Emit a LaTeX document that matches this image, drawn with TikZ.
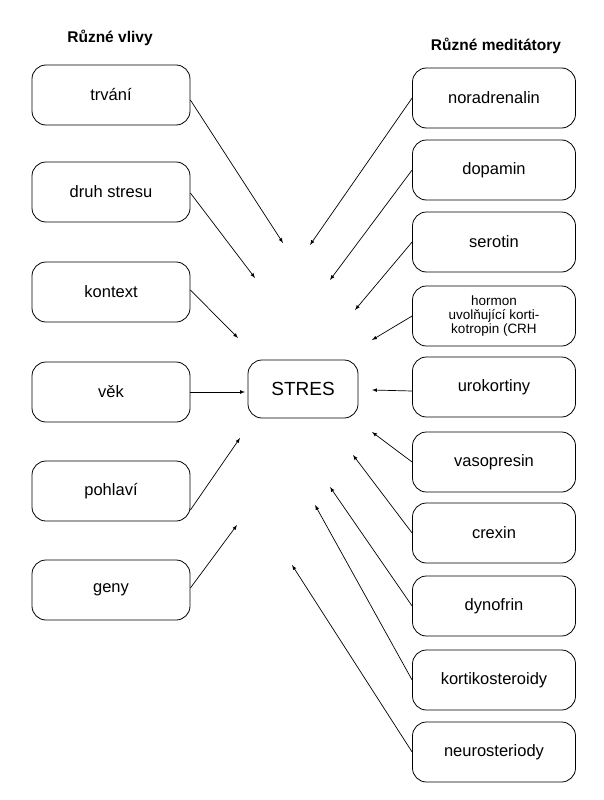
\documentclass[tikz,border=0pt]{standalone}
\usepackage{fontspec}
\setmainfont{Liberation Sans}
\begin{document}
\begin{tikzpicture}[x=1pt,y=-1pt,
  box/.style={draw,rounded corners=14pt,line width=0.8pt,minimum width=158pt,minimum height=60pt,font=\fontsize{16.5}{18}\selectfont,align=center,inner sep=1pt},
  rbox/.style={box,minimum width=163pt},
  arr/.style={-latex,line width=0.7pt},
  head/.style={font=\bfseries\fontsize{15.5}{17}\selectfont}]
\useasboundingbox (0,0) rectangle (604,800);
\node[head] (h1) at (110,38) {Různé vlivy};
\node[head] (h2) at (496,46) {Různé meditátory};
\node[box] (l1) at (111,95) {trvání};
\node[box] (l2) at (111,192) {druh stresu};
\node[box] (l3) at (111,292) {kontext};
\node[box] (l4) at (111,392) {věk};
\node[box] (l5) at (111,491) {pohlaví};
\node[box] (l6) at (111,590) {geny};
\node[box,minimum width=110pt,minimum height=58pt,font=\fontsize{19}{21}\selectfont] (s) at (303,389) {STRES};
\node[rbox] (r1) at (494,98) {noradrenalin};
\node[rbox] (r2) at (494,170) {dopamin};
\node[rbox] (r3) at (494,242) {serotin};
\node[rbox,font=\fontsize{13.5}{14}\selectfont] (r4) at (494,316) {hormon\\uvolňující korti-\\kotropin (CRH};
\node[rbox] (r5) at (494,387) {urokortiny};
\node[rbox] (r6) at (494,462) {vasopresin};
\node[rbox] (r7) at (494,533) {crexin};
\node[rbox] (r8) at (494,606) {dynofrin};
\node[rbox] (r9) at (494,680) {kortikosteroidy};
\node[rbox] (r10) at (494,752) {neurosteriody};
\foreach \n/\x/\y in {a1/283/243,a2/255/278,a3/238/338,a4/245/392,a5/240/438,a6/237/525,
  b1/310/245,b2/330/280,b3/355/310,b4/372/340,b5/372/390,b6/372/432,b7/353/455,b8/330/487,b9/315/505,b10/292/565}
  \coordinate (\n) at (\x,\y);
\draw[arr] (l1.east |- 0,100) -- (a1);
\draw[arr] (l2.east |- 0,193) -- (a2);
\draw[arr] (l3.east |- 0,290) -- (a3);
\draw[arr] (l4.east) -- (a4);
\draw[arr] (l5.east |- 0,510) -- (a5);
\draw[arr] (l6.east |- 0,588) -- (a6);
\draw[arr] (r1.west) -- (b1);
\draw[arr] (r2.west) -- (b2);
\draw[arr] (r3.west) -- (b3);
\draw[arr] (r4.west) -- (b4);
\draw[arr] (r5.west |- 0,391) -- (b5);
\draw[arr] (r6.west) -- (b6);
\draw[arr] (r7.west) -- (b7);
\draw[arr] (r8.west) -- (b8);
\draw[arr] (r9.west) -- (b9);
\draw[arr] (r10.west) -- (b10);
\end{tikzpicture}
\end{document}
